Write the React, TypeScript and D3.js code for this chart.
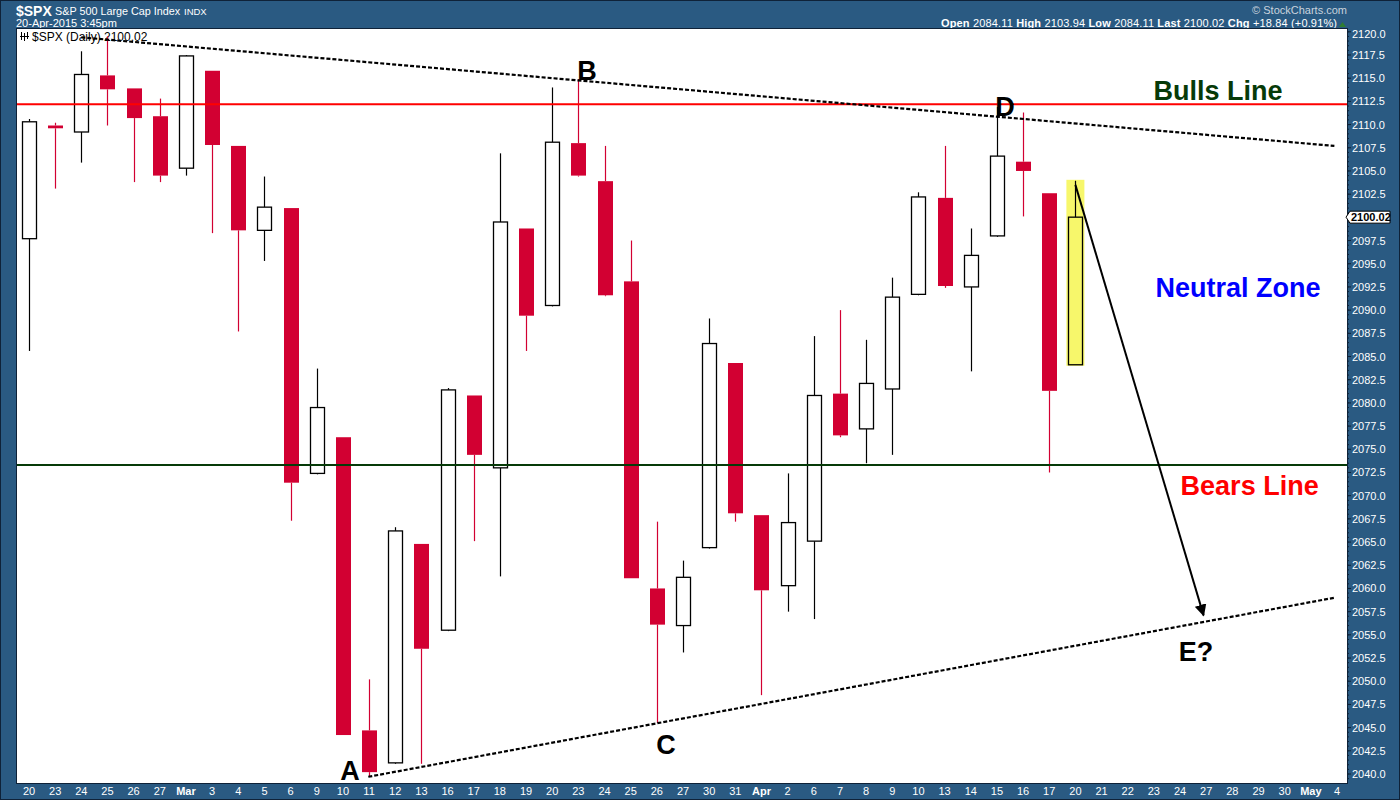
import React from 'react';
import * as d3 from 'd3';

// Trading-day slots along the x axis (month names replace the 1st trading day)
const dayLabels = [
  '20', '23', '24', '25', '26', '27', 'Mar', '3', '4', '5', '6', '9', '10', '11', '12', '13',
  '16', '17', '18', '19', '20', '23', '24', '25', '26', '27', '30', '31', 'Apr', '2', '6', '7',
  '8', '9', '10', '13', '14', '15', '16', '17', '20', '21', '22', '23', '24', '27', '28', '29',
  '30', 'May', '4',
];
const monthLabels = ['Mar', 'Apr', 'May'];

// Daily OHLC, Feb 20 – Apr 20 2015
const opens = [
  2097.7, 2109.9, 2109.2, 2115.3, 2113.9, 2110.9, 2105.3, 2115.8, 2107.7, 2098.6, 2101.0,
  2072.4, 2076.3, 2044.7, 2041.2, 2064.8, 2055.5, 2080.8, 2073.0, 2098.8, 2090.5, 2108.0,
  2103.9, 2093.1, 2060.0, 2056.0, 2064.4, 2084.3, 2067.9, 2060.3, 2065.1, 2081.0, 2077.2,
  2081.5, 2091.7, 2102.1, 2092.5, 2098.0, 2106.0, 2102.6, 2084.11,
];
const highs = [
  2110.6, 2110.2, 2117.9, 2119.5, 2113.9, 2112.8, 2117.5, 2115.8, 2107.7, 2104.4, 2101.0,
  2083.7, 2076.3, 2050.2, 2066.6, 2064.8, 2081.6, 2080.8, 2106.9, 2098.8, 2114.0, 2114.9,
  2107.7, 2097.5, 2067.2, 2063.0, 2089.1, 2084.3, 2067.9, 2072.4, 2087.2, 2090.0, 2086.8,
  2093.5, 2102.7, 2107.7, 2098.8, 2111.9, 2111.3, 2102.6, 2103.94,
];
const lows = [
  2085.6, 2103.1, 2105.9, 2109.9, 2103.8, 2103.8, 2104.5, 2098.3, 2087.7, 2095.3, 2067.3,
  2072.3, 2044.2, 2039.7, 2041.1, 2041.1, 2055.4, 2065.1, 2061.3, 2085.6, 2090.4, 2104.4,
  2091.5, 2061.1, 2045.5, 2053.1, 2064.3, 2067.2, 2048.5, 2057.5, 2056.7, 2076.3, 2073.5,
  2074.4, 2091.6, 2092.4, 2083.4, 2097.9, 2100.1, 2072.5, 2084.11,
];
const closes = [
  2110.3, 2109.6, 2115.4, 2113.8, 2110.7, 2104.5, 2117.4, 2107.8, 2098.6, 2101.1, 2071.4,
  2079.5, 2044.2, 2040.2, 2066.2, 2053.5, 2081.4, 2074.4, 2099.5, 2089.4, 2108.1, 2104.5,
  2091.6, 2061.1, 2056.1, 2061.2, 2086.4, 2068.1, 2059.8, 2067.1, 2080.8, 2076.5, 2082.1,
  2091.4, 2102.2, 2092.6, 2095.9, 2106.6, 2105.0, 2081.3, 2100.02,
];

// Horizontal levels
const bullsLevel = 2112.2;
const bearsLevel = 2073.3;

// Triangle trendlines and projected move: [slot index, price]
const upperTrend = [[2.0, 2119.4], [49.9, 2107.7]];
const lowerTrend = [[12.97, 2039.7], [49.9, 2059.0]];
const projection = [[40, 2103.5], [44.9, 2057.1]];

// Wave letters and zone notes: [text, slot index, baseline price, colour]
const waveLabels: [string, number, number][] = [
  ['A', 12.27, 2039.35],
  ['B', 21.33, 2114.8],
  ['C', 24.35, 2042.2],
  ['D', 37.31, 2110.9],
  ['E?', 44.61, 2052.2],
];
const zoneLabels: [string, number, number, string][] = [
  ['Bulls Line', 45.45, 2112.7, '#063a08'],
  ['Neutral Zone', 46.22, 2091.45, '#0000ff'],
  ['Bears Line', 46.66, 2070.07, '#ff0000'],
];

const yTicks = d3.range(2040, 2120.01, 2.5);
const yMinor = d3.range(2039.5, 2120.01, 0.5);

const W = 1400;
const H = 800;
const plot = { left: 17, right: 1347, top: 29, bottom: 783 };
const frame = '#2a5a82';
const bear = '#d20032';
const font = "'Liberation Sans', Arial, sans-serif";

export default function App() {
  const x = d3.scaleLinear().domain([0, 50]).range([29, 1337]);
  const y = d3.scaleLinear().domain([2040, 2120]).range([774, 31.8]);
  const line = d3.line<number[]>().x((d) => x(d[0])).y((d) => y(d[1]));

  const lastIdx = closes.length - 1;
  const last = closes[lastIdx];
  const bodyW = 15;

  return (
    <svg
      width={W}
      height={H}
      style={{ position: 'absolute', left: 0, top: 0, display: 'block' }}
      fontFamily={font}
    >
      <defs>
        <clipPath id="plotClip">
          <rect x={plot.left} y={plot.top} width={plot.right - plot.left} height={plot.bottom - plot.top} />
        </clipPath>
        <marker id="arrowHead" viewBox="0 0 10 10" refX="9" refY="5" markerWidth="6" markerHeight="6" orient="auto">
          <path d="M0,0 L10,5 L0,10 z" fill="#000" />
        </marker>
      </defs>

      {/* frame */}
      <rect x={0} y={0} width={W} height={H} fill={frame} />
      <rect x={0.5} y={0.5} width={W - 1} height={H - 1} fill="none" stroke="#0f2238" />
      <rect
        x={plot.left}
        y={plot.top}
        width={plot.right - plot.left}
        height={plot.bottom - plot.top}
        fill="#fff"
      />

      {/* header */}
      <text x={16} y={16} fill="#fff" fontSize={14} fontWeight="bold">$SPX</text>
      <text x={55} y={15} fill="#fff" fontSize={10.8}>S&amp;P 500 Large Cap Index</text>
      <text x={184} y={15} fill="#fff" fontSize={9.5}>INDX</text>
      <text x={16} y={27} fill="#fff" fontSize={11}>20-Apr-2015 3:45pm</text>
      <text x={1347} y={14} fill="#c9d3dd" fontSize={11} textAnchor="end">© StockCharts.com</text>
      <text x={1337} y={27} fill="#fff" fontSize={11} textAnchor="end" textLength={396} lengthAdjust="spacing">
        <tspan fontWeight="bold">Open</tspan> 2084.11{'  '}
        <tspan fontWeight="bold">High</tspan> 2103.94{'  '}
        <tspan fontWeight="bold">Low</tspan> 2084.11{'  '}
        <tspan fontWeight="bold">Last</tspan> 2100.02{'  '}
        <tspan fontWeight="bold">Chg</tspan> +18.84 (+0.91%)
      </text>
      <path d="M1339,27 L1342.5,22 L1346,27 z" fill="#2e7d32" />

      <g clipPath="url(#plotClip)">
        {/* legend */}
        <g stroke="#000" strokeWidth={1}>
          <line x1={21.5} y1={32} x2={21.5} y2={40} />
          <line x1={24.5} y1={33} x2={24.5} y2={41} />
          <line x1={27.5} y1={32} x2={27.5} y2={39} />
          <line x1={20} y1={36.5} x2={29} y2={36.5} />
        </g>
        <text x={32} y={41} fontSize={12} fill="#000">$SPX (Daily) 2100.02</text>

        {/* highlight of the latest session */}
        <rect
          x={x(lastIdx) - 9}
          y={y(highs[lastIdx]) - 1}
          width={18}
          height={y(lows[lastIdx]) - y(highs[lastIdx]) + 2}
          fill="#f7f76b"
        />

        {/* candles */}
        {closes.map((c, i) => {
          const o = opens[i];
          const up = c >= o;
          const cx = Math.round(x(i));
          const top = y(Math.max(o, c));
          const bot = y(Math.min(o, c));
          const h = Math.max(bot - top, 2);
          const col = up ? '#000' : bear;
          return (
            <g key={i}>
              <line x1={cx + 0.5} x2={cx + 0.5} y1={y(highs[i])} y2={top} stroke={col} strokeWidth={1.2} />
              <line x1={cx + 0.5} x2={cx + 0.5} y1={bot} y2={y(lows[i])} stroke={col} strokeWidth={1.2} />
              {up ? (
                <rect
                  x={cx - bodyW / 2 + 1}
                  y={top}
                  width={bodyW - 1}
                  height={h}
                  fill={i === lastIdx ? 'none' : '#fff'}
                  stroke="#000"
                  strokeWidth={1.3}
                />
              ) : (
                <rect x={cx - bodyW / 2 + 0.5} y={top} width={bodyW} height={h} fill={bear} />
              )}
            </g>
          );
        })}

        {/* levels */}
        <line x1={plot.left} x2={plot.right} y1={y(bullsLevel)} y2={y(bullsLevel)} stroke="#ff0000" strokeWidth={2} />
        <line x1={plot.left} x2={plot.right} y1={y(bearsLevel)} y2={y(bearsLevel)} stroke="#063a08" strokeWidth={2} />

        {/* trendlines */}
        <path d={line(upperTrend) || ''} fill="none" stroke="#000" strokeWidth={2.2} strokeDasharray="4,2" />
        <path d={line(lowerTrend) || ''} fill="none" stroke="#000" strokeWidth={2.2} strokeDasharray="4,2" />
        <path d={line(projection) || ''} fill="none" stroke="#000" strokeWidth={2} markerEnd="url(#arrowHead)" />

        {/* wave labels */}
        {waveLabels.map(([t, i, v]) => (
          <text key={t} x={x(i)} y={y(v)} fontSize={27} fontWeight="bold" textAnchor="middle" fill="#000">
            {t}
          </text>
        ))}
        {zoneLabels.map(([t, i, v, c]) => (
          <text key={t} x={x(i)} y={y(v)} fontSize={27} fontWeight="bold" textAnchor="middle" fill={c}>
            {t}
          </text>
        ))}
      </g>

      {/* plot border */}
      <rect
        x={plot.left - 0.5}
        y={plot.top - 0.5}
        width={plot.right - plot.left + 1}
        height={plot.bottom - plot.top + 1}
        fill="none"
        stroke="#0f2238"
        strokeWidth={1}
      />

      {/* y axis */}
      {yMinor.map((v) => (
        <line key={'m' + v} x1={plot.right} x2={plot.right + 2} y1={y(v)} y2={y(v)} stroke="#0f2238" strokeWidth={1} />
      ))}
      {yTicks.map((v) => (
        <g key={v}>
          <line x1={plot.right} x2={plot.right + 4} y1={y(v)} y2={y(v)} stroke="#0f2238" strokeWidth={1} />
          {Math.abs(v - last) > 1.5 && (
            <text x={1352} y={Math.max(y(v), 34) + 4} fontSize={11} fill="#fff">
              {d3.format('.1f')(v)}
            </text>
          )}
        </g>
      ))}

      {/* last value marker */}
      <path
        d={`M${plot.right - 1},${y(last)} L${plot.right + 3},${y(last) - 6} L1390,${y(last) - 6} L1390,${y(last) + 6} L${plot.right + 3},${y(last) + 6} z`}
        fill="#fff"
        stroke="#000"
        strokeWidth={1}
      />
      <text x={1351} y={y(last) + 4} fontSize={11} fontWeight="bold" fill="#000">
        {d3.format('.2f')(last)}
      </text>

      {/* x axis */}
      {dayLabels.map((d, i) => (
        <text
          key={i}
          x={x(i)}
          y={795}
          fontSize={11}
          fill="#fff"
          textAnchor="middle"
          fontWeight={monthLabels.includes(d) ? 'bold' : 'normal'}
        >
          {d}
        </text>
      ))}
    </svg>
  );
}
